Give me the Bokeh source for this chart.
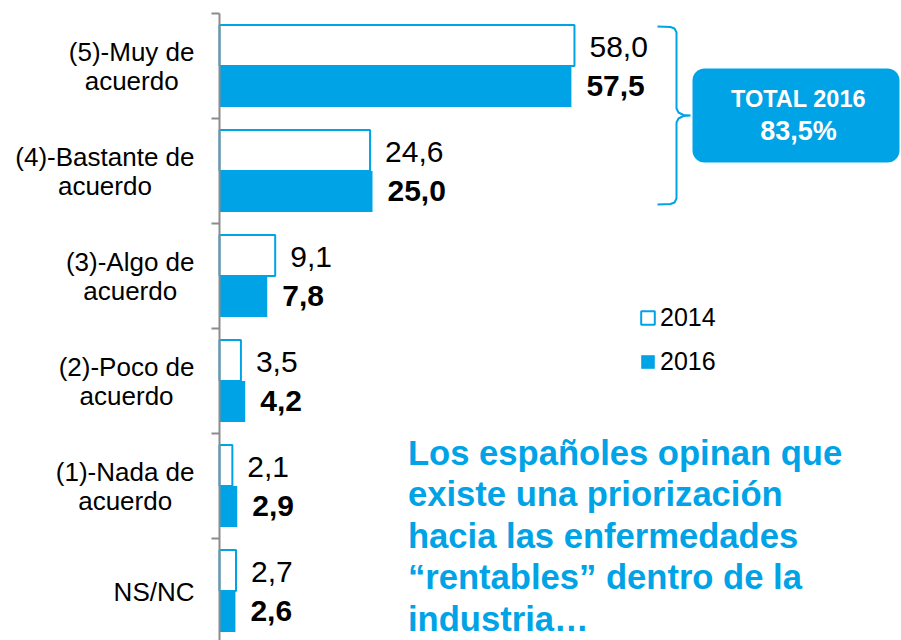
from bokeh.plotting import figure
from bokeh.models import ColumnDataSource, Range1d, Legend, LegendItem, BoxAnnotation
from bokeh.core.properties import value
from bokeh.embed import file_html
from bokeh.resources import INLINE

# ---------------- data ----------------
categories = ["(5)-Muy de\nacuerdo", "(4)-Bastante de\nacuerdo", "(3)-Algo de\nacuerdo",
              "(2)-Poco de\nacuerdo", "(1)-Nada de\nacuerdo", "NS/NC"]
values_2014 = [58.0, 24.6, 9.1, 3.5, 2.1, 2.7]
values_2016 = [57.5, 25.0, 7.8, 4.2, 2.9, 2.6]
series_labels = ["2014", "2016"]
total_label = "TOTAL 2016"
total_2016 = 83.5
message_lines = ["Los españoles opinan que", "existe una priorización",
                 "hacia las enfermedades", "\u201crentables\u201d dentro de la",
                 "industria\u2026"]

# ---------------- style / layout ----------------
BLUE = "#00A3E6"
AXIS_GRAY = "#8C8C8C"
FONT = "Liberation Sans"
W, H = 901, 640
X0_PX = 219.0      # px of value 0
SX = 6.12          # px per unit
Y_TOP_PX = 13.0    # px of top category boundary
SY = 105.0         # px per category
n = len(categories)


def px2x(px):
    return (px - X0_PX) / SX


def py2y(py):
    return (n - 0.5) - (py - Y_TOP_PX) / SY


def fmt(v):
    return f"{v:.1f}".replace(".", ",")


# Arial / Liberation Sans regular advance widths (per 1000 em)
AW = {' ': 278, '(': 333, ')': 333, '-': 333, '/': 278, 'A': 667, 'B': 667, 'C': 722,
      'M': 833, 'N': 722, 'P': 667, 'S': 667, 'a': 556, 'c': 500, 'd': 556, 'e': 556,
      'g': 556, 'l': 222, 'n': 556, 'o': 556, 's': 500, 't': 278, 'u': 556, 'y': 500,
      'r': 333, 'i': 222}


def text_width(s, size):
    return sum(AW.get(ch, 556) for ch in s) * size / 1000.0


p = figure(width=W, height=H, x_range=Range1d(px2x(0), px2x(W)),
           y_range=Range1d(py2y(H), py2y(0)),
           x_axis_location=None, y_axis_location=None,
           toolbar_location=None, output_backend="svg", min_border=0,
           outline_line_color=None, background_fill_color="white",
           border_fill_color="white")
p.xgrid.visible = False
p.ygrid.visible = False

ys = [n - 1 - i for i in range(n)]
OFF = 0.195
src = ColumnDataSource(dict(
    y14=[y + OFF for y in ys], y16=[y - OFF for y in ys],
    v14=values_2014, v16=values_2016,
    l14=[fmt(v) for v in values_2014], l16=[fmt(v) for v in values_2016],
))

r14 = p.hbar(y="y14", left=0, right="v14", height=0.39, fill_color="white",
             line_color=BLUE, line_width=2, source=src)
r16 = p.hbar(y="y16", left=0, right="v16", height=0.39, fill_color=BLUE,
             line_color=None, source=src)

p.text(x="v14", y="y14", text="l14", x_offset=15, y_offset=1.5,
       text_baseline="middle", text_align="left", text_font=value(FONT),
       text_font_size="30px", text_color="black", source=src)
p.text(x="v16", y="y16", text="l16", x_offset=15, y_offset=0,
       text_baseline="middle", text_align="left", text_font=value(FONT),
       text_font_size="30px", text_font_style="bold", text_color="black", source=src)

# axis line and ticks at category boundaries
boundaries = [i - 0.5 for i in range(n + 1)]
p.segment(x0=[0], y0=[py2y(H)], x1=[0], y1=[n - 0.5],
          line_color=AXIS_GRAY, line_width=2)
p.segment(x0=[px2x(X0_PX - 8)] * len(boundaries), y0=boundaries,
          x1=[0] * len(boundaries), y1=boundaries,
          line_color=AXIS_GRAY, line_width=2)

# category labels
LAB_SIZE = 26
l1_t, l1_y, l1_yo = [], [], []
l2_t, l2_y, l2_xo = [], [], []
for lab, y in zip(categories, ys):
    parts = lab.split("\n")
    l1_t.append(parts[0])
    l1_y.append(y)
    if len(parts) > 1:
        l1_yo.append(-14.5)
        l2_t.append(parts[1])
        l2_y.append(y)
        l2_xo.append(-25 - text_width(parts[0], LAB_SIZE) / 2)
    else:
        l1_yo.append(1.0)
p.text(x=[0] * len(l1_t), y=l1_y, text=l1_t, x_offset=-25, y_offset=l1_yo,
       text_align="right", text_baseline="middle", text_font=value(FONT),
       text_font_size=f"{LAB_SIZE}px", text_color="black")
p.text(x=[0] * len(l2_t), y=l2_y, text=l2_t, x_offset=l2_xo, y_offset=14.5,
       text_align="center", text_baseline="middle", text_font=value(FONT),
       text_font_size=f"{LAB_SIZE}px", text_color="black")

# legend (location in px from frame's bottom-left)
legend = Legend(items=[LegendItem(label=series_labels[0], renderers=[r14]),
                       LegendItem(label=series_labels[1], renderers=[r16])],
                location=(639, 264), orientation="vertical",
                border_line_color=None, background_fill_alpha=0,
                padding=0, margin=0, spacing=14, glyph_width=17, glyph_height=17,
                label_height=30, label_standoff=4,
                label_text_font=FONT, label_text_font_size="25px",
                label_text_color="black")
p.add_layout(legend)

# total box
box = BoxAnnotation(left=px2x(692), right=px2x(899), top=py2y(68), bottom=py2y(162),
                    fill_color=BLUE, fill_alpha=1.0, line_color=None,
                    border_radius=12, level="underlay")
p.add_layout(box)
p.text(x=[px2x(798)], y=[py2y(98.5)], text=[total_label], text_align="center",
       text_baseline="middle", text_font=value(FONT), text_font_size="23.5px",
       text_font_style="bold", text_color="white")
p.text(x=[px2x(798)], y=[py2y(130.5)], text=[fmt(total_2016) + "%"], text_align="center",
       text_baseline="middle", text_font=value(FONT), text_font_size="27px",
       text_font_style="bold", text_color="white")

# brace
brace_px = [(657, 26), (670, 26.5), (674, 28), (676, 32), (676, 108), (678, 112),
            (683, 114.5), (690, 115), (683, 115.5), (678, 118), (676, 122),
            (676, 198), (674, 202), (670, 203.5), (657, 204)]
p.line(x=[px2x(a) for a, b in brace_px], y=[py2y(b) for a, b in brace_px],
       line_color=BLUE, line_width=2)

# message
p.text(x=[px2x(407.5)] * len(message_lines),
       y=[py2y(452 + i * 41.5) for i in range(len(message_lines))],
       text=message_lines, text_align="left", text_baseline="middle",
       text_font=value(FONT), text_font_size="34.6px", text_font_style="bold",
       text_color=BLUE)

open("out.html", "w").write(file_html(p, INLINE))
